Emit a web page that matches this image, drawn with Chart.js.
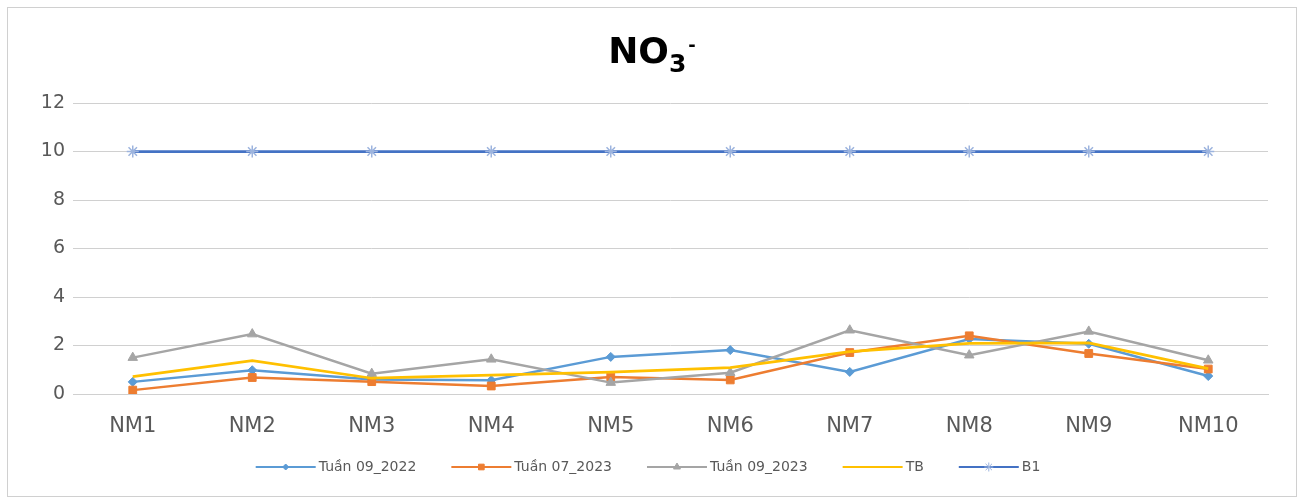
<!DOCTYPE html>
<html>
<head>
<meta charset="utf-8">
<script src="https://cdn.jsdelivr.net/npm/chart.js@4.4.1/dist/chart.umd.min.js"></script>
<style>
  html, body { margin: 0; padding: 0; background: #ffffff; }
  #wrap { width: 1304px; height: 497px; position: relative; }
</style>
</head>
<body>
<div id="wrap"><canvas id="chart" width="1304" height="497"></canvas></div>
<script>
// Sampling points
const categories = ['NM1', 'NM2', 'NM3', 'NM4', 'NM5', 'NM6', 'NM7', 'NM8', 'NM9', 'NM10'];

// NO3- concentration per sampling round
const tuan09_2022 = [0.50, 0.98, 0.60, 0.57, 1.53, 1.81, 0.91, 2.27, 2.07, 0.74];
const tuan07_2023 = [0.16, 0.68, 0.51, 0.33, 0.70, 0.58, 1.71, 2.40, 1.67, 1.03];
const tuan09_2023 = [1.50, 2.47, 0.84, 1.43, 0.47, 0.88, 2.63, 1.60, 2.58, 1.39];
const trungBinh   = [0.72, 1.38, 0.65, 0.78, 0.90, 1.09, 1.75, 2.09, 2.11, 1.05];
const gioiHanB1   = [10, 10, 10, 10, 10, 10, 10, 10, 10, 10];

// Axis ticks
const yTicks = [0, 2, 4, 6, 8, 10, 12];

const seriesNames = ['Tuần 09_2022', 'Tuần 07_2023', 'Tuần 09_2023', 'TB', 'B1'];

const FONT = "'DejaVu Sans', 'Liberation Sans', sans-serif";
const TEXT = '#595959';

function lineSet(label, data, color, style, radius, order, width, pColor) {
  return {
    label: label,
    data: data,
    borderColor: color,
    backgroundColor: pColor || color,
    pointBorderColor: pColor || color,
    pointBackgroundColor: pColor || color,
    borderWidth: width,
    pointStyle: style,
    pointRadius: radius,
    pointHoverRadius: radius,
    pointBorderWidth: style === 'star' ? 1.5 : 1,
    tension: 0,
    fill: false,
    order: order
  };
}

const datasets = [
  lineSet(seriesNames[0], tuan09_2022, '#5B9BD5', 'rectRot', 4.5, 5, 2.5),
  lineSet(seriesNames[1], tuan07_2023, '#ED7D31', 'rect', 5.5, 4, 2.5),
  lineSet(seriesNames[2], tuan09_2023, '#A5A5A5', 'triangle', 5.5, 3, 2.5),
  lineSet(seriesNames[3], trungBinh, '#FFC000', false, 0, 2, 2.75),
  lineSet(seriesNames[4], gioiHanB1, '#4472C4', 'star', 6, 1, 2.75, '#9DB4DE')
];

// White card with a thin grey frame
const framePlugin = {
  id: 'frame',
  beforeDraw(chart) {
    const ctx = chart.ctx;
    ctx.save();
    ctx.fillStyle = '#ffffff';
    ctx.fillRect(0, 0, chart.width, chart.height);
    ctx.strokeStyle = '#d0d0d0';
    ctx.lineWidth = 1;
    ctx.strokeRect(7.5, 7.5, chart.width - 15, chart.height - 8);
    ctx.restore();
  }
};

// Chemical formula title: NO3 with subscript 3 and superscript minus
const formulaTitle = {
  id: 'formulaTitle',
  afterDraw(chart) {
    const ctx = chart.ctx;
    ctx.save();
    ctx.fillStyle = '#000000';
    ctx.textBaseline = 'alphabetic';
    const big = 'bold 36px ' + FONT;
    const sub = 'bold 25px ' + FONT;
    const sup = 'bold 18px ' + FONT;
    ctx.font = big; const wMain = ctx.measureText('NO').width;
    ctx.font = sub; const wSub = ctx.measureText('3').width;
    ctx.font = sup; const wSup = ctx.measureText('-').width;
    const total = wMain + wSub + 2 + wSup;
    let x = 652 - total / 2;
    const base = 63;
    ctx.font = big; ctx.fillText('NO', x, base); x += wMain;
    ctx.font = sub; ctx.fillText('3', x, base + 9); x += wSub + 2;
    ctx.font = sup; ctx.fillText('-', x, base - 12);
    ctx.restore();
  }
};

// Legend row: line sample with its marker, then the series name
const lineLegend = {
  id: 'lineLegend',
  afterDraw(chart) {
    const ctx = chart.ctx;
    const items = chart.data.datasets;
    const lineLen = 60, gapText = 3, gapItem = 35, y = 467;
    ctx.save();
    ctx.font = '14px ' + FONT;
    const widths = items.map(d => ctx.measureText(d.label).width);
    let total = 0;
    widths.forEach((w, i) => { total += lineLen + gapText + w + (i < widths.length - 1 ? gapItem : 0); });
    let x = 648 - total / 2;
    items.forEach((d, i) => {
      ctx.strokeStyle = d.borderColor;
      ctx.lineWidth = 2;
      ctx.beginPath();
      ctx.moveTo(x, y);
      ctx.lineTo(x + lineLen, y);
      ctx.stroke();
      if (d.pointStyle) {
        ctx.fillStyle = d.pointBackgroundColor;
        ctx.strokeStyle = d.pointBorderColor;
        ctx.lineWidth = 1;
        Chart.helpers.drawPoint(ctx, {
          pointStyle: d.pointStyle,
          radius: Math.max(3, d.pointRadius - 1.5),
          borderWidth: 1,
          rotation: 0
        }, x + lineLen / 2, y);
      }
      ctx.fillStyle = TEXT;
      ctx.textBaseline = 'middle';
      ctx.textAlign = 'left';
      ctx.fillText(d.label, x + lineLen + gapText, y);
      x += lineLen + gapText + widths[i] + gapItem;
    });
    ctx.restore();
  }
};

new Chart(document.getElementById('chart'), {
  type: 'line',
  data: { labels: categories, datasets: datasets },
  plugins: [framePlugin, formulaTitle, lineLegend],
  options: {
    responsive: false,
    animation: false,
    devicePixelRatio: 1,
    layout: { padding: { top: 103, right: 36, bottom: 43, left: 0 } },
    plugins: {
      legend: { display: false },
      title: { display: false },
      tooltip: { enabled: false }
    },
    scales: {
      x: {
        offset: true,
        grid: { display: false, drawTicks: false },
        border: { display: true, color: '#d0d0d0', width: 1 },
        ticks: {
          color: TEXT,
          font: { family: FONT, size: 21 },
          padding: 20,
          maxRotation: 0,
          autoSkip: false
        },
        afterFit(scale) { scale.height = 60; }
      },
      y: {
        min: 0,
        max: 12,
        afterBuildTicks(scale) { scale.ticks = yTicks.map(v => ({ value: v })); },
        grid: { color: '#d0d0d0', lineWidth: 1, drawTicks: false },
        border: { display: false },
        ticks: {
          color: TEXT,
          font: { family: FONT, size: 19 },
          padding: 8
        },
        afterFit(scale) { scale.width = 73; }
      }
    }
  }
});
</script>
</body>
</html>
